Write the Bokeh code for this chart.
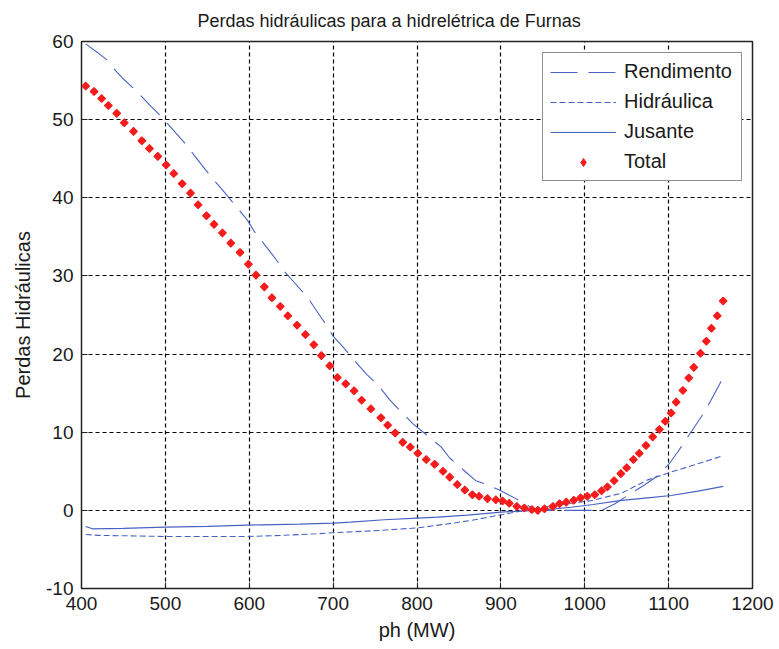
import numpy as np
from bokeh.plotting import figure
from bokeh.models import Range1d, FixedTicker, Legend, LegendItem, CustomJSTickFormatter
from bokeh.embed import file_html
from bokeh.resources import INLINE

# Perdas totais (pontos calculados)
total_ph = [405, 415, 424, 432, 442, 451, 462, 472, 481, 491, 501, 510, 520, 530,
            539, 549, 558, 568, 578, 589, 599, 608, 618, 627, 637, 646, 657, 667,
            677, 686, 696, 705, 715, 725, 734, 745, 757, 765, 774, 783, 792, 801,
            811, 821, 831, 839, 848, 857, 866, 874, 884, 894, 902, 910, 919, 928,
            937, 944, 952, 962, 970, 978, 987, 995, 1003, 1012, 1020, 1027, 1035,
            1043, 1050, 1058, 1065, 1073, 1081, 1089, 1096, 1103, 1109, 1117, 1124,
            1130, 1138, 1145, 1151, 1158, 1165]
total_loss = [54.3, 53.6, 52.7, 51.8, 50.8, 49.6, 48.5, 47.3, 46.3, 45.3, 44.2, 43.1,
              41.8, 40.6, 39.1, 37.7, 36.6, 35.5, 34.2, 33.0, 31.5, 30.1, 28.6, 27.2,
              26.1, 24.9, 23.7, 22.5, 21.2, 19.8, 18.5, 17.0, 16.2, 15.3, 14.1, 13.0,
              11.85, 10.9, 9.9, 8.7, 8.1, 7.3, 6.5, 5.9, 5.0, 4.25, 3.3, 2.6, 2.0, 1.8,
              1.5, 1.35, 1.2, 0.9, 0.5, 0.3, 0.1, 0.0, 0.2, 0.5, 0.85, 1.05, 1.3, 1.6,
              1.8, 2.0, 2.5, 3.0, 3.8, 4.7, 5.45, 6.5, 7.3, 8.3, 9.4, 10.35, 11.4,
              12.45, 13.85, 15.35, 16.95, 18.3, 20.1, 21.65, 23.3, 24.9, 26.8]

# Perdas por rendimento
rend_ph = [405, 419, 431, 437, 449, 466, 482, 496, 510, 524, 534, 547, 560, 572, 585,
           598, 606, 619, 632, 640, 655, 670, 678, 690, 700, 712, 726, 740, 753, 767,
           781, 795, 812, 829, 839, 855, 870, 884, 900, 918, 930, 944, 980, 1020,
           1036, 1054, 1072, 1088, 1101, 1111, 1121, 1131, 1141, 1150, 1159, 1165]
rend_loss = [59.7, 58.6, 57.6, 56.7, 55.3, 53.6, 51.8, 50.3, 48.6, 46.9, 45.5, 43.7,
             42.0, 40.5, 38.8, 37.1, 35.7, 33.9, 32.1, 30.8, 29.0, 27.2, 25.9, 24.0,
             22.3, 20.9, 19.1, 17.4, 16.1, 14.2, 12.6, 11.1, 9.6, 8.1, 6.7, 5.2, 3.8,
             3.3, 2.5, 1.5, 0.7, 0.0, 0.0, 0.0, 0.85, 2.1, 3.3, 4.5, 6.0, 7.5, 9.1,
             10.7, 12.3, 14.0, 15.8, 17.0]

# Perdas hidráulicas
hidr_ph = [405, 420, 450, 500, 550, 600, 640, 680, 700, 750, 800, 832, 864, 896, 924,
           944, 970, 1008, 1044, 1075, 1103, 1127, 1145, 1165]
hidr_loss = [-3.08, -3.2, -3.25, -3.34, -3.35, -3.34, -3.2, -3.0, -2.87, -2.6, -2.25,
             -1.8, -1.3, -0.65, -0.1, 0.3, 0.7, 1.25, 2.2, 3.9, 4.9, 5.7, 6.3, 7.0]

# Perdas de jusante
jus_ph = [405, 413, 450, 500, 550, 614, 660, 700, 721, 761, 800, 825, 860, 904, 944,
          984, 1010, 1044, 1075, 1103, 1135, 1165]
jus_loss = [-2.06, -2.36, -2.3, -2.15, -2.05, -1.85, -1.75, -1.63, -1.5, -1.2, -1.0,
            -0.87, -0.6, -0.2, 0.0, 0.4, 0.75, 1.27, 1.6, 1.9, 2.45, 3.06]

x_ticks = [400, 500, 600, 700, 800, 900, 1000, 1100, 1200]
y_ticks = [-10, 0, 10, 20, 30, 40, 50, 60]

FONT = "Liberation Sans"
BLUE = "#4862c4"
RED = "#f41c1c"
INK = "#1a1a1a"

p = figure(frame_width=671, frame_height=547,
           min_border_left=81, min_border_right=27,
           min_border_top=41, min_border_bottom=61,
           x_range=Range1d(400, 1200), y_range=Range1d(-10, 60),
           output_backend="svg", toolbar_location=None)

p.background_fill_color = "white"
p.border_fill_color = "white"
p.outline_line_color = "#222222"
p.outline_line_width = 1.5

p.title.text = "Perdas hidráulicas para a hidrelétrica de Furnas"
p.title.text_font = FONT
p.title.text_font_size = "18px"
p.title.text_font_style = "normal"
p.title.text_color = INK
p.title.align = "left"
p.title.offset = 116
p.title.vertical_align = "top"
p.title.standoff = 18

# plain hyphen for negative tick labels
plain_ticks = CustomJSTickFormatter(code="return tick.toFixed(0);")

p.xaxis.ticker = FixedTicker(ticks=x_ticks)
p.yaxis.ticker = FixedTicker(ticks=y_ticks)
for ax in (p.xaxis, p.yaxis):
    ax.formatter = plain_ticks
    ax.axis_line_color = None
    ax.major_tick_in = 6
    ax.major_tick_out = 0
    ax.major_tick_line_color = "#222222"
    ax.minor_tick_line_color = None
    ax.major_label_text_font = FONT
    ax.major_label_text_font_size = "19px"
    ax.major_label_text_color = INK
    ax.axis_label_text_font = FONT
    ax.axis_label_text_font_size = "20px"
    ax.axis_label_text_font_style = "normal"
    ax.axis_label_text_color = INK
    ax.major_label_standoff = 8

p.xaxis.axis_label = "ph (MW)"
p.yaxis.axis_label = "Perdas Hidráulicas"
p.xaxis.axis_label_standoff = 6
p.yaxis.axis_label_standoff = 9

for g in (p.xgrid, p.ygrid):
    g.grid_line_color = "black"
    g.grid_line_dash = "4 3"
    g.grid_line_width = 1.2

r_rend = p.line(rend_ph, rend_loss, line_color=BLUE, line_width=1.1, line_dash="27 11")
r_hidr = p.line(hidr_ph, hidr_loss, line_color=BLUE, line_width=1.1, line_dash="6 3")
r_jus = p.line(jus_ph, jus_loss, line_color=BLUE, line_width=1.2)
r_tot = p.scatter(total_ph, total_loss, marker="square", size=5.5, angle=np.pi / 4,
                  fill_color=RED, line_color=RED, line_width=1.1)
# legend key for the total series: a diamond, like the rotated squares above
# (a single undefined point, so nothing is drawn inside the axes)
r_tot_key = p.scatter([np.nan], [np.nan], marker="diamond", size=9,
                      fill_color=RED, line_color=RED, line_width=1)

legend = Legend(items=[
    LegendItem(label="Rendimento", renderers=[r_rend]),
    LegendItem(label="Hidráulica", renderers=[r_hidr]),
    LegendItem(label="Jusante", renderers=[r_jus]),
    LegendItem(label="Total", renderers=[r_tot_key]),
], location=(461, 407))
legend.label_text_font = FONT
legend.label_text_font_size = "20px"
legend.label_text_color = INK
legend.glyph_width = 66
legend.glyph_height = 20
legend.label_height = 20
legend.label_width = 110
legend.label_standoff = 8
legend.spacing = 7
legend.padding = 7
legend.margin = 0
legend.border_line_color = "#222222"
legend.border_line_width = 1.3
legend.background_fill_color = "white"
legend.background_fill_alpha = 1.0
p.add_layout(legend, "center")

open("out.html", "w").write(file_html(p, INLINE))
